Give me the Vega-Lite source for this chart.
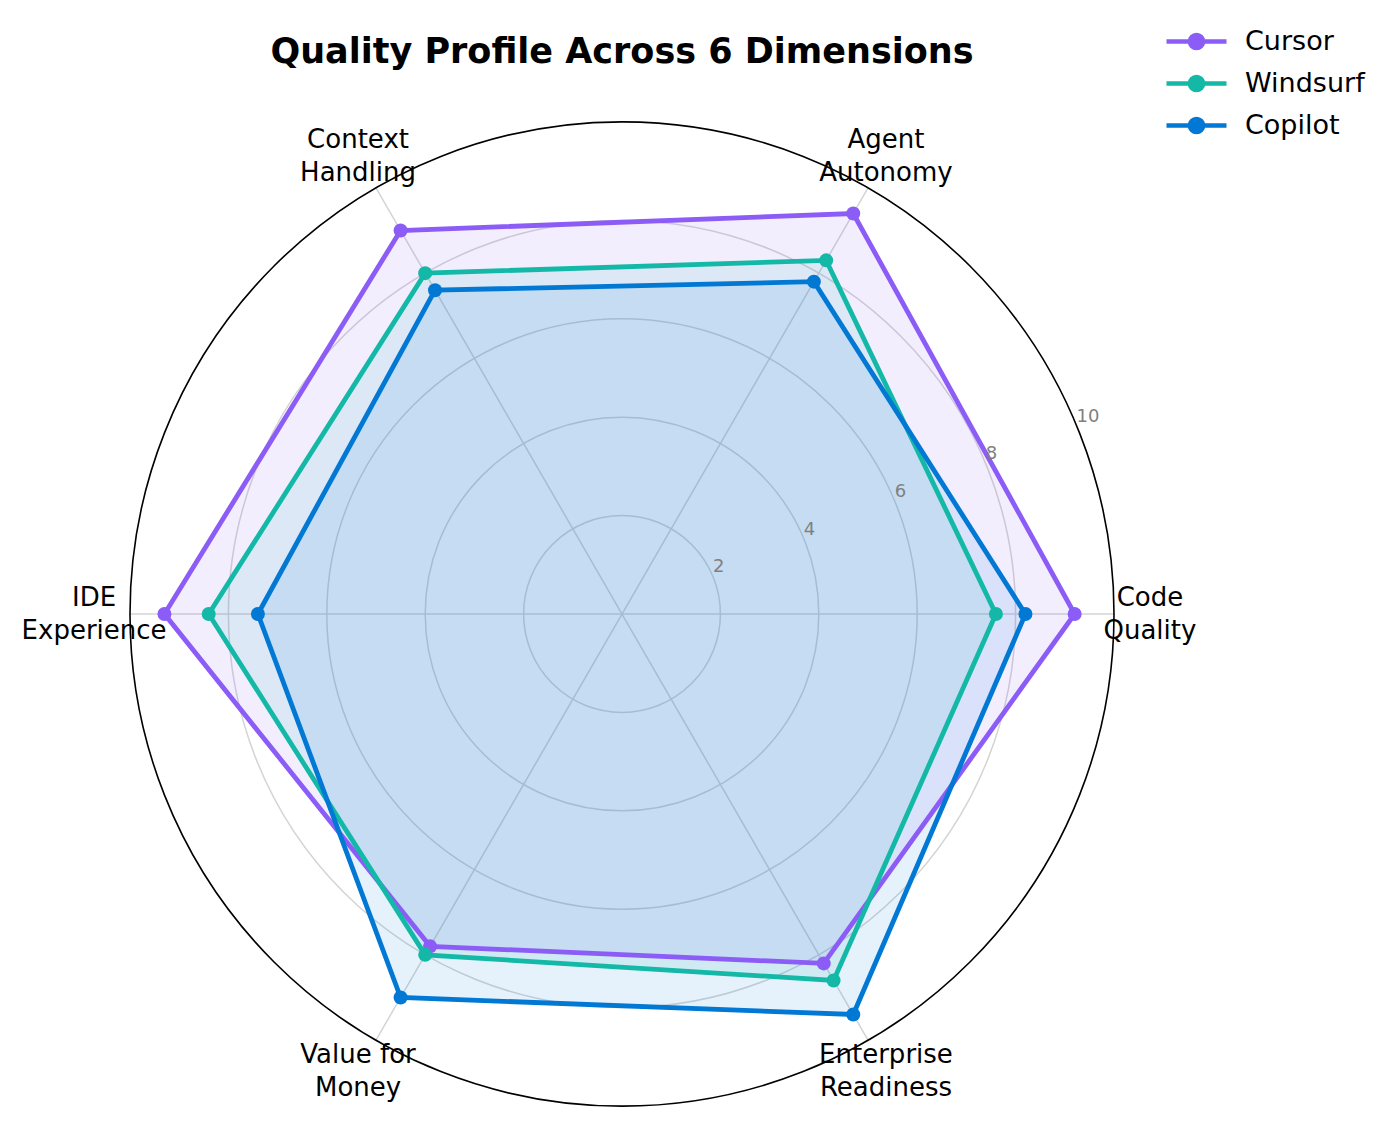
{
  "$schema": "https://vega.github.io/schema/vega-lite/v6.json",
  "autosize": {"type": "none"},
  "padding": {"left": 0, "top": 80, "right": 150, "bottom": 0},
  "width": 1244,
  "height": 1044,
  "background": "white",
  "title": {
    "text": "Quality Profile Across 6 Dimensions",
    "frame": "group",
    "anchor": "middle",
    "font": "DejaVu Sans",
    "fontSize": 35,
    "fontWeight": "bold",
    "color": "black",
    "baseline": "alphabetic",
    "offset": 18,
    "dy": 97
  },
  "datasets": {
    "scores": [
      {"tool": "Cursor", "dim": "Code Quality", "k": 0, "score": 9.2},
      {"tool": "Cursor", "dim": "Agent Autonomy", "k": 1, "score": 9.4},
      {"tool": "Cursor", "dim": "Context Handling", "k": 2, "score": 9.0},
      {"tool": "Cursor", "dim": "IDE Experience", "k": 3, "score": 9.3},
      {"tool": "Cursor", "dim": "Value for Money", "k": 4, "score": 7.8},
      {"tool": "Cursor", "dim": "Enterprise Readiness", "k": 5, "score": 8.2},
      {"tool": "Windsurf", "dim": "Code Quality", "k": 0, "score": 7.6},
      {"tool": "Windsurf", "dim": "Agent Autonomy", "k": 1, "score": 8.3},
      {"tool": "Windsurf", "dim": "Context Handling", "k": 2, "score": 8.0},
      {"tool": "Windsurf", "dim": "IDE Experience", "k": 3, "score": 8.4},
      {"tool": "Windsurf", "dim": "Value for Money", "k": 4, "score": 8.0},
      {"tool": "Windsurf", "dim": "Enterprise Readiness", "k": 5, "score": 8.6},
      {"tool": "Copilot", "dim": "Code Quality", "k": 0, "score": 8.2},
      {"tool": "Copilot", "dim": "Agent Autonomy", "k": 1, "score": 7.8},
      {"tool": "Copilot", "dim": "Context Handling", "k": 2, "score": 7.6},
      {"tool": "Copilot", "dim": "IDE Experience", "k": 3, "score": 7.4},
      {"tool": "Copilot", "dim": "Value for Money", "k": 4, "score": 9.0},
      {"tool": "Copilot", "dim": "Enterprise Readiness", "k": 5, "score": 9.4}
    ],
    "dims": [
      {"dim": "Code Quality", "k": 0, "label": "Code\nQuality"},
      {"dim": "Agent Autonomy", "k": 1, "label": "Agent\nAutonomy"},
      {"dim": "Context Handling", "k": 2, "label": "Context\nHandling"},
      {"dim": "IDE Experience", "k": 3, "label": "IDE\nExperience"},
      {"dim": "Value for Money", "k": 4, "label": "Value for\nMoney"},
      {"dim": "Enterprise Readiness", "k": 5, "label": "Enterprise\nReadiness"}
    ],
    "rings": [{"r": 2}, {"r": 4}, {"r": 6}, {"r": 8}],
    "outer": [{"r": 10}],
    "ticks": [{"r": 2}, {"r": 4}, {"r": 6}, {"r": 8}, {"r": 10}]
  },
  "layer": [
    {
      "data": {"name": "rings"},
      "transform": [{"calculate": "0", "as": "cx"}],
      "mark": {"type": "point", "shape": "circle", "filled": false, "stroke": "#d4d4d4", "strokeWidth": 1.5, "opacity": 1},
      "encoding": {
        "x": {"field": "cx", "type": "quantitative", "scale": {"domain": [-12.642, 12.642], "nice": false, "zero": false}, "axis": null},
        "y": {"field": "cx", "type": "quantitative", "scale": {"domain": [-10.366, 10.854], "nice": false, "zero": false}, "axis": null},
        "size": {"field": "r", "type": "quantitative", "legend": null, "scale": {"type": "pow", "exponent": 2, "domain": [0, 10], "range": [0, 968256], "zero": true}}
      }
    },
    {
      "data": {"name": "dims"},
      "transform": [
        {"calculate": "0", "as": "cx"},
        {"calculate": "10*cos(datum.k*PI/3)", "as": "ex"},
        {"calculate": "10*sin(datum.k*PI/3)", "as": "ey"}
      ],
      "mark": {"type": "rule", "color": "#d4d4d4", "strokeWidth": 1.5},
      "encoding": {
        "x": {"field": "cx", "type": "quantitative"},
        "y": {"field": "cx", "type": "quantitative"},
        "x2": {"field": "ex"},
        "y2": {"field": "ey"}
      }
    },
    {
      "data": {"name": "scores"},
      "transform": [
        {"calculate": "datum.score*cos(datum.k*PI/3)", "as": "px"},
        {"calculate": "datum.score*sin(datum.k*PI/3)", "as": "py"}
      ],
      "mark": {"type": "line", "filled": true, "interpolate": "linear-closed", "fillOpacity": 0.1, "strokeWidth": 0},
      "encoding": {
        "x": {"field": "px", "type": "quantitative"},
        "y": {"field": "py", "type": "quantitative"},
        "order": {"field": "k", "type": "quantitative"},
        "color": {
          "field": "tool",
          "type": "nominal",
          "scale": {"domain": ["Cursor", "Windsurf", "Copilot"], "range": ["#8b5cf6", "#14b8a6", "#0078d4"]},
          "legend": {
            "orient": "none",
            "legendX": 1174,
            "legendY": -61,
            "title": null,
            "padding": 0,
            "symbolType": "M-1.5,0L1.5,0M0.33,0A0.33,0.33,0,1,1,-0.33,0A0.33,0.33,0,1,1,0.33,0Z",
            "symbolSize": 1600,
            "symbolStrokeWidth": 4.5,
            "symbolOffset": 0,
            "labelOffset": 26,
            "labelFont": "DejaVu Sans",
            "labelFontSize": 27,
            "labelColor": "black",
            "rowPadding": 3
          }
        }
      }
    },
    {
      "data": {"name": "scores"},
      "transform": [
        {"calculate": "datum.score*cos(datum.k*PI/3)", "as": "px"},
        {"calculate": "datum.score*sin(datum.k*PI/3)", "as": "py"}
      ],
      "mark": {"type": "line", "interpolate": "linear-closed", "strokeWidth": 4.8},
      "encoding": {
        "x": {"field": "px", "type": "quantitative"},
        "y": {"field": "py", "type": "quantitative"},
        "order": {"field": "k", "type": "quantitative"},
        "color": {"field": "tool", "type": "nominal"}
      }
    },
    {
      "data": {"name": "scores"},
      "transform": [
        {"calculate": "datum.score*cos(datum.k*PI/3)", "as": "px"},
        {"calculate": "datum.score*sin(datum.k*PI/3)", "as": "py"}
      ],
      "mark": {"type": "point", "filled": true, "shape": "circle", "size": 196, "opacity": 1},
      "encoding": {
        "x": {"field": "px", "type": "quantitative"},
        "y": {"field": "py", "type": "quantitative"},
        "color": {"field": "tool", "type": "nominal"}
      }
    },
    {
      "data": {"name": "outer"},
      "transform": [{"calculate": "0", "as": "cx"}],
      "mark": {"type": "point", "shape": "circle", "filled": false, "stroke": "black", "strokeWidth": 1.6, "opacity": 1},
      "encoding": {
        "x": {"field": "cx", "type": "quantitative"},
        "y": {"field": "cx", "type": "quantitative"},
        "size": {"field": "r", "type": "quantitative", "legend": null}
      }
    },
    {
      "data": {"name": "ticks"},
      "transform": [
        {"calculate": "datum.r*cos(PI/8)", "as": "tx"},
        {"calculate": "datum.r*sin(PI/8)", "as": "ty"}
      ],
      "mark": {"type": "text", "align": "left", "baseline": "bottom", "font": "DejaVu Sans", "fontSize": 18, "color": "#808080"},
      "encoding": {
        "x": {"field": "tx", "type": "quantitative"},
        "y": {"field": "ty", "type": "quantitative"},
        "text": {"field": "r", "type": "quantitative"}
      }
    },
    {
      "data": {"name": "dims"},
      "transform": [
        {"calculate": "10.73*cos(datum.k*PI/3)", "as": "lx"},
        {"calculate": "10.73*sin(datum.k*PI/3)", "as": "ly"}
      ],
      "mark": {"type": "text", "align": "center", "baseline": "middle", "font": "DejaVu Sans", "fontSize": 26, "lineHeight": 33, "dy": -16.5, "lineBreak": "\n", "color": "black"},
      "encoding": {
        "x": {"field": "lx", "type": "quantitative"},
        "y": {"field": "ly", "type": "quantitative"},
        "text": {"field": "label", "type": "nominal"}
      }
    }
  ],
  "config": {"view": {"stroke": null}}
}
